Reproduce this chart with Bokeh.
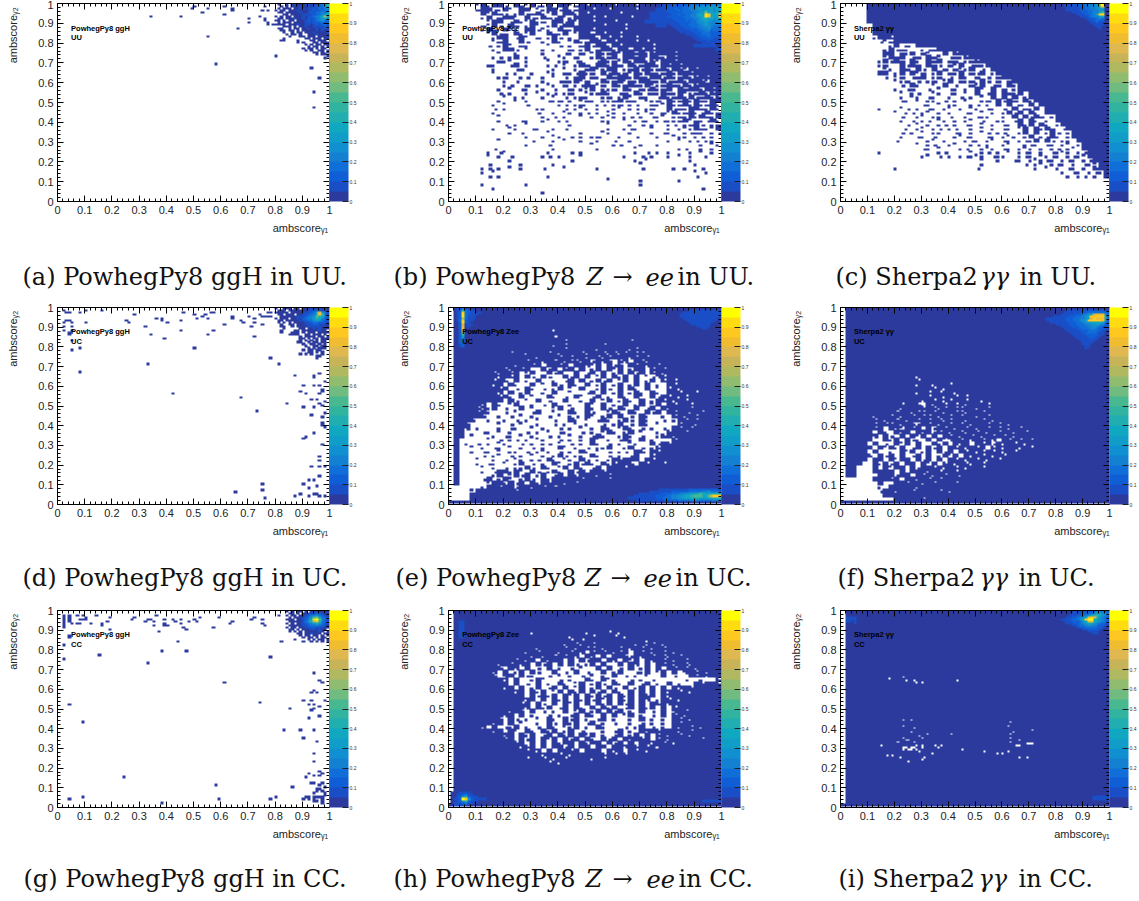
import numpy as np
from bokeh.plotting import figure
from bokeh.layouts import column, row
from bokeh.embed import file_html
from bokeh.resources import INLINE
from bokeh.models import (Range1d, LinearAxis, FixedTicker, LinearColorMapper, ColorBar,
                          Label, CustomJSTickFormatter)

PALETTE = ["#2b3a9c", "#1a4ec6", "#105ed6", "#106ed8", "#1480d2", "#1090d0", "#109ec8", "#10a8c0",
           "#20aeb0", "#30b4a0", "#48b890", "#70bc80", "#90bc70", "#b0b860", "#c8b458", "#e0b850",
           "#f0bc30", "#ffc820", "#ffdc10", "#ffff00"]
TICKS = [round(i * 0.1, 1) for i in range(11)]

CAPTIONS = [
    [("(a) PowhegPy8 ggH in UU.", 22, False)],
    [("(b) PowhegPy8", 393, False), ("Z", 586, True), ("→", 612, False), ("ee", 645, True), ("in UU.", 677, False)],
    [("(c) Sherpa2", 835, False), ("γγ", 980, True), ("in UU.", 1019, False)],
    [("(d) PowhegPy8 ggH in UC.", 22, False)],
    [("(e) PowhegPy8", 395, False), ("Z", 584, True), ("→", 610, False), ("ee", 643, True), ("in UC.", 675, False)],
    [("(f) Sherpa2", 837, False), ("γγ", 979, True), ("in UC.", 1018, False)],
    [("(g) PowhegPy8 ggH in CC.", 23, False)],
    [("(h) PowhegPy8", 393, False), ("Z", 585, True), ("→", 612, False), ("ee", 646, True), ("in CC.", 678, False)],
    [("(i) Sherpa2", 838, False), ("γγ", 978, True), ("in CC.", 1018, False)],
]
SAMPLES = ["PowhegPy8 ggH", "PowhegPy8 Zee", "Sherpa2 γγ"]
REGIONS = ["UU", "UC", "CC"]

# ---- sparse bins (x, y of occupied bins)
A_X = [.345,.455,.495,.505,.535,.555,.555,.585,.615,.615,.645,.645,.665,.705,.705,.745,.755,.765,.775,.765,.775,.775,.765,.805,.795,.935,.965,.945,.945]
A_Y = [.935,.935,.975,.985,.955,.975,.835,.695,.985,.945,.975,.965,.875,.925,.905,.935,.965,.985,.965,.925,.905,.895,.915,.735,.895,.675,.625,.555,.475]
A_CORNER = [
 ".a..a.abaaabbabbcdgk",
 "..a.a.aaabaababccdfh",
 ".a.aaa.aabbabbcbdcef",
 "a.aa.aaabaaabbcbcdde",
 ".aa.aaaaabaabcbddedf",
 "...aa.aaaabbbbccdegi",
 "a.a.aa.aaababcdeehmi",
 ".aa.aaabaabacbcdeghe",
 "aa.a.aa.aaabcbcdefdd",
 ".a.aaa.aaaabbbcccdcc",
 "aaaa.aaabaabbabcbcdb",
 "...aaa.a.aabaabbbbcb",
 ".aa..a.aa.aabaababbb",
 "..aa.aa.a.aaaaababaa",
 "...a..a.aa.aaabaaaab",
 "....a.aa.a..aaabaaaa",
 ".....a...aa.aaa.aaab",
 "...a.......aa.aaa.aa",
 "..aa....a....aa.aaa.",
 "........a.a...aa.aaa",
 "...........a.a.aa.aa",
 "............a.aa.a.a",
 "..........a.aa.a.aa.",
 "...........a.a..aa.a",
 "..............aa.a.a",
 "...............a.aa.",
 "...................a",
 "..................a.",
]
D_X = [.025,.035,.045,.085,.105,.165,.285,.365,.385,.385,.405,.455,.465,.505,.515,.535,.545,.555,.565,.575,.615,.645,.645,.675,.685,.705,.715,.725,.725,.745,.755,.755,.765,.775,.775,.785,.785,.725,
 .025,.025,.035,.045,.055,.055,.025,.045,.045,.055,.055,.055,.085,.085,.255,.265,.105,.325,.345,.395,.335,.425,.505,.555,.575,.455,
 .675,.735,.785,.815,.845,.855,.825,.875,.905,.895,.915,.935,.955,.945,.945,.945,.965,.965,.985,.975,.975,.965,.985,.965,.975,.945,.905,.935,.985,.975,.975,.975,.985,.945,.915,.905,.975,.965,.965,.935,.965,.985,.965,.925,.945,.905,.955,.925,.945,.955,.965,.985,.925,.895,.875,.755,.755,.655,.765]
D_Y = [.985,.975,.975,.975,.985,.985,.965,.945,.945,.935,.925,.935,.975,.965,.945,.955,.965,.945,.975,.975,.915,.955,.945,.935,.925,.955,.905,.945,.925,.965,.915,.955,.95,.975,.955,.975,.955,.855,
 .925,.905,.935,.935,.925,.905,.885,.875,.865,.885,.835,.785,.795,.675,.935,.925,.925,.905,.865,.845,.715,.565,.795,.865,.885,.885,
 .545,.475,.745,.715,.515,.865,.875,.655,.605,.575,.565,.535,.535,.605,.655,.645,.665,.605,.625,.585,.575,.565,.525,.515,.505,.495,.495,.455,.465,.445,.415,.405,.395,.365,.345,.335,.305,.245,.225,.195,.195,.195,.145,.125,.125,.105,.095,.085,.055,.055,.045,.045,.045,.055,.045,.105,.075,.065,.035]
D_CORNER = [
 "a..aaa.aa.aaababbaaa",
 ".aaa.aaaaaaabbccbbaa",
 "aaaaa.aaaabbbcdgpfdb",
 ".aa.aaa.aabbcdegqjcb",
 "..aaaaaabbbcdefkihdb",
 "a.aaa.aabacdeegihecb",
 ".aa.aaaaabbcddfgfdcb",
 ".a.a.a.aaaabbcddccbb",
 "..a..aa.aaabbbccbbaa",
 "..aa..a.aaaabbbbbaba",
 "...a.....aa.aababaaa",
 "..a....aa.aaaaaabaa.",
 "......aaa.a.aaa.aaaa",
 "......aaa..aa.aaa.a.",
 ".........a.aaaa.aa.a",
 ".........aa.a.aa.aaa",
 ".........a.a.a.a.aa.",
 "........aa..a.aa.aa.",
 "..........a..aa.a.a.",
 "...........a..aa.aa.",
 "............a.a.aaa.",
 "..........a.aa.aa...",
 "............aa.a.a..",
 ".........a.a.a...a..",
 "...............aa...",
 "...............a....",
]
G_X = [.025,.025,.025,.025,.025,.025,.025,.045,.045,.045,.045,.055,.075,.095,.085,.095,.105,.105,.075,.085,.125,.145,.165,.165,.185,.195,.195,.275,.285,.325,.335,.345,.355,.355,.365,.395,.395,.395,.405,.375,.425,.435,.455,.455,.465,.475,.485,.505,.515,.525,.575,.595,.635,.645,.715,.725,.755,.755,.765,.815,
 .045,.045,.025,.445,.825,.855,.855,.875,.385,.475,.155,.025,.335,.785,.945,.965,.975,.615,.945,.935,.955,.905,.935,.985,.745,.925,.945,.965,.045,.855,.945,.935,.965,.925,.095,.835,.895,.945,.905,.955,.945,.945,.965,.925,.945,.965,.975,.915,.245,.935,.945,.965,.975,.585,.865,.955,.965,.975,.955,.945,
 .915,.905,.925,.925,.945,.945,.955,.965,.975,.975,.945,.955,.975,.985,.985,.975,.985,.045,.095,.385,.595,.785,.805]
G_Y = [.975,.965,.955,.945,.935,.925,.915,.975,.965,.955,.945,.935,.975,.975,.955,.955,.965,.955,.935,.935,.935,.975,.935,.925,.945,.965,.905,.955,.965,.945,.955,.955,.945,.925,.975,.955,.935,.925,.925,.895,.955,.945,.955,.935,.915,.905,.945,.955,.945,.965,.915,.965,.935,.945,.955,.965,.955,.935,.925,.975,
 .875,.865,.825,.845,.845,.905,.895,.925,.795,.795,.775,.755,.735,.765,.685,.645,.635,.635,.595,.585,.585,.545,.545,.545,.535,.525,.525,.515,.525,.505,.505,.495,.465,.455,.435,.395,.395,.395,.355,.335,.275,.235,.185,.175,.165,.165,.175,.155,.155,.125,.125,.115,.125,.115,.105,.095,.095,.085,.085,.075,
 .055,.045,.055,.045,.055,.045,.055,.055,.055,.045,.035,.035,.035,.065,.075,.025,.105,.045,.055,.025,.045,.045,.055]
G_CORNER = [
 "a.a.aa.a.abbaaba",
 ".aa.a.aabbbccbaa",
 "a.aa.aabcdefdcba",
 ".a.aaabcdfklgdcb",
 "aaa.aabcegstkecb",
 ".aaaaabdfimqidcb",
 "a.a.aabcdeghfdbb",
 ".aa.aabbcddedcba",
 "a.aa.aabbccbbbaa",
 "..a.a.aaabbabaa.",
 ".a.a.a.aaaaaba.a",
 "....aa.aabaaa.aa",
 ".....a.aa.aa.a.a",
 "......a.aa.a.aa.",
 "...a....a.a.aa.a",
 "......a..a.a.a.a",
]

# ---- occupancy of 0.02 blocks, top row first.
# . empty  # full  + x one bin missing  , ' ` ; one bin  - ^ half block  letters: block at that level
FULL = ".#################################################"
B_MAP = [
 ".....`#,##;.#-`#;,#.##`-#+####+###+####bbbbbbcbcccc",
 ".....-##;,#`.##.`,##;#,-##+##+####+###bbbbbbbbccccc",
 "......#`#-;.,#;-#,`#.##,#+#####+#####bbbbbbbbbcccc",
 "......,#.-##`.#;,#-;#`,###+#+####+###bbbbbbbbbcccc",
 ".......`##.;#,`#,-.##;#`##+###+#####bbbbbbbbbbbccc",
 "......-`#;.#-.,#`.,#;##-####+###+#####bbbbbbbbbccc",
 "......,#-.#`,.##;`,.#-,###+#####+#######bbbbbbbbbb",
 ".......`#;-.#,`#..#-,#.`##-#+##+#########bbbbbbbbb",
 "........,##.;#`.-.,#;.,.###,#+#+##+#######bbbbbbbb",
 "........`-#..#;..,.#,.`#,-##-#+###+#+#######bbbbbb",
 ".......;.,#`.-,...`.;.,.-#;##,#+#####+#######bbbb#",
 "........,.##;.`..,.,..-.,#.-##,##-#+#+###########b",
 ".........`..,....,...;,.-.`#,-#`##-#,+###+########",
 "........,;.,#.,..;..`,.-..,#,-#.##-#`#+,#+########",
 ".........-,`..,...`.,-.;,..;#,-`#,##,+`##+########",
 ".......-,..;#.,...,;.`.,#-.##,#-.#,-##,#+#+#######",
 "........,...;-.....,.`.,.-#`,##.,-#;#,-#,#+`#+####",
 "........`.;.,..,..`,.-,;#,-.#;#,-`#,#-,-#,##+#####",
 ".........,-..,;..,.`.;.-#.-,.#-##,#-,##;#,-#,+#+##",
 "..........,.;....,..;-,#`-..#,-#`-,##-,#;-#,##+`##",
 "..........,;..-.,.`,.-.,;#-`-.#,-#-,#`,-#-,#,+####",
 ".........,.`.;,..,.;..-.,`#.,,-.#,.-;#,-#.#-##,#+#",
 ".........;.,..,.`.,;.,-..`,-#,.;-.#,;-,#-,#`,-#,+#",
 "..........`.,;...,.`.;.,-,..,-.,#`.-,.;#,-#,#;-#,+",
 ".........,..`.,...;,-.,.`-,.,,-#;-,.`,-.#,-#,#-,##",
 "........,.`...;.....,;.,-..,;.,-.,;..-,`#,-#,#,-#,",
 "........;.,.....,,...;.,`,.,..,`.,;.,-..#;-,##-,#,",
 "........,.......;..,.`,.,;.,.`,.,.;.`,.-`#,-#,;#,-",
 ".........`.......,.;.,..`.,.,`,.,;.,.;,`.,-,#,#-,#",
 ".........,...;,..,`.,;......,,..`.,;,.,;,,-#`-,;#,",
 "..........;.,.`.......,......`...,.;.,..,;.,-#;.,-",
 "........,..`,..;,..,.;.......,..,;,..`..,.,`,#-,`#",
 "...........,.;....`.....,...`,...,...,.;,..,;-,.,;",
 "..............,..,.`,.;.,.,-...,..;...,..`,,.,;.,.",
 ".........`.....;...,.`..,..,..;..,......,.`.,;.,,.",
 "..............,...;.......`...,;...,..,.......,.`,.",
 "........;..........,.......,......`.......,;..,.,.",
 ".......,.;`.......,...;.,.........,.;.,.,...,.`.,.",
 ".......`.,.;.....,;.,...`.......,..;.,..,.`.,..,.",
 "...........,..........;...........,.`.......,.....",
 ".......;.....,.....,...............`.........,....",
 "......,;.,.`.,...;...`.....,.......;.....,.,..;...",
 "......,.`....................................`.,..",
 ".......;.,........,..........................;....",
 ".............................`.....,......,.......",
 "......,.......,....................,..............",
 "........,.....................................;...",
 ".................,................................",
 "..................................................",
 "..................................................",
]
C_MAP = [
 ".....#############################################",
 ".....#############################################",
 ".....#############################################",
 ".....#############################################",
 ".....#############################################",
 "......############################################",
 "......############################################",
 "......############################################",
 "......,##+########################################",
 ".......;`-.+#+####################################",
 ".........,#.-.`+-+,+##############################",
 "........,#;-,..,;-.`+#+-+#########################",
 "........##.-,#.-`..#.+.-`+-+#+####################",
 "........`#-#.;-.#-`.;-,+.+;,+-+###################",
 ".......,#;#-.#,.#-#.--.,-+.-`+.+##################",
 ".......,-..#;#-.#-;.-`#.;-,+.,+-##################",
 "........`,.#-.#;.#.-.-`,#.;.-.,+-+################",
 ".......##.,#.#`-.,#.-,#.-;#.,`.+-.+###############",
 "........;.`-.;-#.,-.;.#,.-.;.-.+`-.+##############",
 "..........`,-.;.,-.`#.-,-.#;.-.-`;.,+#############",
 "...........;.#,..`.#.;..-`#.;-.#,`;..#+###########",
 "..........,.;-..;.`.;,.,.#`.#.-.,#;.`.+###########",
 "...........`.,;..`,.;,.`.#.;#.#-,#.,;.,-##########",
 "...........,.`,.;,..,.;.,.`.#.#.#.,#.;..+#########",
 "...........;,.`.,,.;.,.`..,-.#;#-.#,`.,.-+########",
 "...............;,.`.,,..,;.,.#.#.-.#.;,.,+########",
 ".......,...`;.,.;,.,`.,.`,.;,.;.#.-,#.,`,.+#######",
 "..........`.,;.,`.,.,..;,.`.,.,#;#.#,.#;,.,-######",
 "...........;..,`.,,.;..,.;,,..,.#.#;#-.,`.,.######",
 "...........,.;.,;.`,.,.,`.;..,,.;#.#,.,.#;,.-#####",
 "............;.`.,.,;.,.;,.`.,.;,.#,#.#,.,.;,.+####",
 "............,.,`.,;.,;..,.`.,.;,.`#.#,#-.;.,`.+###",
 "...........;.,.`.,,..;,.,.`;.,;..,#.#.,#;.,.;,####",
 "...........,..;,.;...,`;,..;,.,`,.,#.,;#,.,;,`+###",
 "..........;.....,`.,...,;,.,`.;,.,;,#.#;.,,.;,-###",
 "..............`.,;..,`..,;.,..,`..,;,.;,.,`.,.,+##",
 "...............;,.`...,;..,`,.;,.,`,.,.,;.,`.,.###",
 ".......,..........,;....`.,;.,.`.,;,.,.;,`,.,;,###",
 "...............,`.;.,.,;,`,.;,,..,;,.`,;,.,;,`,+##",
 "..........................`..,..;,.,`,;,.,;,.,;###",
 "..........................,.......;.,`.,;,.,.;,`##",
 "..........,..............;..........,.`.,.;,.,.+#",
 ".........................................,.;,.,;,#",
 "..........................................,.,;.,.-",
 "..................................................",
 "..................................................",
 "..................................................",
 "..................................................",
 "..................................................",
 "..................................................",
]
# first solid 0.02 column of panel (c) per row, for rows 9 to 43
C_SOLID_FROM = [10,14,18,22,24,26,27,28,29,30,32,33,34,35,36,36,37,38,39,40,40,41,42,43,43,44,45,45,46,46,47,48,48,49,49]
E_MAP = [
 FULL, FULL, FULL, FULL, FULL,
 ".##################x##############################",
 FULL,
 ".##################+##############################",
 ".####################+###########+################",
 ".##################x#+######+#####################",
 ".####################+#####x#####x+###############",
 ".##########+##x###+#x###+x##+x+x+#++##############",
 ".###############x###+#+##x#+x+###x+#+#############",
 ".#############+##x#+#x++x#;#x+.+x.#+x#############",
 ".###########x##+#.##+#.##x`#.#;+.#+#x#+###########",
 ".#########+x#+#..#;#.+#.#.,#.#`#.,##.+#+##########",
 ".#######+x#+#.`#..#;#..#.;#.#.,#.#;#.+#x##########",
 ".########x#+#.#;.#;..#;#.#.`#.#,#.#.`;x+##########",
 ".#######+#+.#.,.#..,.;#.#.,#;#.`#.#.,#.+#+########",
 ".#######x#.#,..#.`.#;.#,.#.,#.,#.,#.#.,.#+########",
 ".########+#.;.#,.;.,#.`.#..,#;.#.#,.#.`.+#x#######",
 ".########x.#.,#..,.#..`..;#.#.,#.,#,.#,.##+##+####",
 ".########+#,.#.`..#,.;.#`.;#.,.#,.#`.#;#+#x+######",
 ".#########.#;.`.#.;..#..,.#.`#.,#,.#.,#+#x#+######",
 ".#####x.#,.`#..,.;.#..,..#`.#.,.#.,#.`#.#+##+#####",
 ".####+x,#.;..#.`...`#.;..#,.#;.#,.#.;#.#x###+#####",
 ".####+#,..;.`..;#..`..#,.#;..`#,.#,.#;#.#+##x#+###",
 ".#####+..,.;.`.,..;.`.,;.#`.,#.#.;.#,..,.+#x#+####",
 ".###+..,..,.;.,.`..;..#,.`.;#,.,#;.#,..;.,#+#+####",
 ".##+.....`.;.`..,..;.,.`.,..;.,#.;.#,.`...+##x####",
 ".##x.,...,.;,..`.,..;.,.`.,.#,.`#,.;.,.;.#+#+#####",
 ".##...;,.`.,..;.,.`.;,..;.,.`#,.,#.`..,.+##+######",
 ".##.`...,.;,.`.,..;.,.`.,.;#,..,#,.;..,+#x########",
 ".#.....`.;.,;.,.`,..;.,.,.#`.,.;#,.#.,...+########",
 ".#.,.;.,.`,..;.,.,;.`.;.,.#,.;.,.`,..#;#+#########",
 ".#..`.,.;,.`.,.;.,..#`.,.;.,,#..,#.;.,+###########",
 ".#..,.;,.`.,,.;.,`,.;.,.#,.`.;.,;.#+.#+###########",
 ".#....;.,`.;.,.`.,.,#;.,,.#,.;.,.;#..+############",
 ".#...`..,.;.`,.,;.#,.`,.#;.,.,#+###.#+############",
 ".#...,.;,.`.,#.;.,.#`.,#;#,.#,+##+.#+##+##########",
 ".#....`.,.;.,,#;.#,.`#.#,.;#.###+#################",
 ".#....,.;##,#`.#;.,#,.#;#.##+#####################",
 ".#......,#.`#;#.,#.;#.#,###x#+####################",
 ".#....;#.,#`.,#;.#,#####+####+####################",
 ".#.....`##,#;#.#,#+##x#+##########################",
 "......,##+##;##x#+#+##############################",
 "....`#######+#####################################",
 "....##############################################",
 "....##############################################",
 "^^^^^^^^^^^^^^^^^^^^^^^^^^^^^^^^^^^^^^^^^^^^^^^^^^",
]
F_MAP = [FULL] * 16 + [
 ".#############x###################################",
 ".#############+###################################",
 ".#############x##x##+#############################",
 ".################+#x##############################",
 ".#############x#+#+##x############################",
 ".###############+##x#+#+##########################",
 ".##############x#+#x+##+##x#######################",
 ".##########+##+.#x#+#+#x###+######################",
 ".##########x###+#+x+#++##x#+######################",
 ".#########+##x++#+#x#++x##+#######################",
 ".#####x##+#x#+#++#x#+#+##x#+######################",
 ".#####+#x#+#x#+#+#+x+##x##+#x#####################",
 ".#####+#++#x#+;#+#x#+#+#x##+#+#x##################",
 ".#####+#.#x`#+#.#;#+#x#+#x#+#+#x#+################",
 ".#####.#,.#x#.#x#;+#x#+x#+#x#+##x#+###############",
 ".#####x.#;.#.#`#.#.#+#x#+#x#+#+#x#################",
 ".#####..#,#.#;,.#.#`x#+#x#+#x.#+#+#+##############",
 ".####.#.;.#`#.#..#,#.#x#.#+#;#x#+#x###############",
 ".#####.#`#,#.;#.#;#.#+#x#+#.+#x##x#+##############",
 ".####.#..,.#`#.,#.#;#.#+#x+#+#x#+#################",
 ".####+.#;#.#.;#.#.,#`#.#x#+#x#+###################",
 ".####.##.#`##.#;#.#.#+#x#+#x#+####################",
 ".###..#,#;#.##.#`#.+#x#+x#+#######################",
 ".##...#.#`##.#;##+#x#+#x##+#######################",
 ".##...####.#.###x#+##+############################",
 ".##....###;##.#+#x#+##x###########################",
 "......###+#.##x#+#+###############################",
 ".......#..##+##x#+###+############################",
 ".......,.#####x###################################",
 ".......;##x##+####+#x#############################",
 "........##########################################",
 "..........#####+##################################",
 "^^^^^^^^^^^^^^^^^^^^^^^^^^^^^^^^^^^^^^^^^^^^^^^^^^",
]
H_MAP = [
 ".##############x#########x###+#x##################",
 ".#####################x###+###+#x##################",
 ".#####################+#+###########x#############",
 ".####################x#+x#+#######x#x+#x##########",
 ".###############x####+#x#++#x##+#x#+#x#+##########",
 ".#############x#+###x#+#x.+#+#x+#.#+#x#+#x########",
 ".##############x#x#+#+#x.#x.#.##+;#x#+#+x#+#######",
 ".###########+#x#.#x##.#.#;##.#x.#`#.#x#+#x#+######",
 ".########x#+#x#.#;#.#.#;.,#.#..#.#x.#.#+#x#+x#####",
 ".########+.#x.#.;.#.,.;.`..#.#.;.#.,#.#.#+#+#x####",
 ".#######x.#.,#.#;..#.;.#.;..#.,#..;,#.`#.#.x#+#x##",
 ".#######+.x#.#;,..;.`.,.;.`.,.#.;.,.`..#.;..#+#x##",
 ".#########x.#..,#`..;.,..#,.#`,..;.,.;.....;..,..+",
 ".##########.#.;.#.,.#,.`#.,#;.#,.#.;#.,.#.,..#+##+",
 ".#########x#.#.,#.;#.#.`#.,#.#;.#.,#.#.#.#x#+#####",
 ".###########x#.#,#.`#.#,#.#;#.#,.#.#.#.#x#+#x#####",
 ".#############.#;#,#.#`#.#,#;#.#,#.#+#.#x#########",
 ".#############x#.#.#,#.#,#;#`#.#,#.#x.,#+#x#######",
 ".############+#.#;.#.#`#.#.#,#.#;#.#.#+#x#########",
 ".#############x.#,#.;#.#,.#.#,#.;#.#,#.#.+########",
 ".##########x#+.#.;.,.#.`#.,#.#;#.,.#.;.#.x#+######",
 ".#########x#.#.,..;.,.;#.#,.#.#.`#.,.;.#.+#x######",
 ".########+.#;.,.`.#,.#;#.,.;#.,..,.#.,.,.#+#x#####",
 ".#######x#.#.`..,.#;.#,#.;#.,.;..,.;.,.,.#+#######",
 ".#####x.#.;,#.,.;.#,.`,#.,.#,...;.,#.;.,.#x#+#x###",
 ".#######x#.#`.#,.#,#.,#.;...,.;#.,.#x#+###x#+#####",
 ".#########x#.#,#.;#.#,#.#`#.,.;#.,#.#.+#x#+#x#####",
 ".#########+#.#;#.#`#.#;#.#,.#;#.#x#+#.+#x#####+###",
 ".###########+#.#.#.#,##.#,##.#;#.#.##x#+#x########",
 ".############x+#.#.##;#.##.##.##x#+#+#x###########",
 ".#############+#x.#.##+#.###.#x#.#+#x#############",
 ".################x##+#x#####+#+#+#################",
 ".#############+##+#x#+####x#+#####################",
 ".#################+#x##############################",
 FULL, FULL, FULL, FULL, FULL, FULL, FULL, FULL, FULL, FULL,
 "^^^^^^^^^^^^^^^^^^^^^^^^^^^^^^^^^^^^^^^^^^^^^^^^^^",
]
I_MAP = [FULL] * 49 + ["^" * 50]
I_HOLE_X = [.185,.235,.245,.275,.285,.305,.435,.235,.235,.265,.275,.265,.295,.305,.325,.235,.245,.255,.275,.285,.275,.155,.215,.235,.265,.305,.305,.355,.365,.375,.235,.245,.255,.265,.275,.285,.295,.175,.195,.225,.345,.305,.315,.255,.415,.455,.535,.585,.605,.625,.625,.635,.635,.635,.645,.655,.665,.665,.695,.705,.715,.665,.695,.715,.635]
I_HOLE_Y = [.655,.665,.645,.645,.635,.635,.645,.445,.415,.445,.405,.385,.365,.355,.375,.355,.345,.345,.335,.315,.305,.315,.335,.295,.305,.315,.305,.315,.305,.315,.305,.305,.295,.295,.305,.295,.285,.265,.265,.255,.275,.245,.255,.235,.375,.295,.285,.275,.275,.285,.415,.375,.435,.335,.385,.315,.345,.315,.325,.325,.325,.255,.255,.395,.355]

# ---- level maps on the 0.01 bins (a=lowest band ... t=top band), first row is the top one
B_HOT = [
 "bbcbbcbccdccddcddeed",
 "ccccccdddeefeffggfgg",
 "cccdccddeeefgffggfhg",
 "ccccdcdddeefffhfgegh",
 "bcccccddddeefglhgfhi",
 "bbccdccddeeghgsrhghq",
 "ccccccdddeefghsqhggr",
 "bbcccccdddeefhighfgi",
 "bbbccccdcddefghgfefg",
 "bbbbcccccddeffgfeeef",
 "abbbbcccddddefgfeeee",
 "aabbbbcccdddeeffeddd",
 "aaabbbbccccddeefdddd",
 "aaaabbbbbcccddeecddd",
 "aaaaabbbbbcccdddcccc",
 "aaaaaaabbbbccdddcccc",
 "aaaaaaaaabbbcccdcccb",
 "aaaaaaaaaabbbccccbbb",
 "aaaaaaaaaaabbbbcbbbb",
 "aaaaaaaaaaaaabbbbbbb",
]
C_HOT = [
 "...bbbbcccddeefgkta.",
 "...bbbbbcccddeefhra.",
 "....bbbbbccddeefgga.",
 "....bbbbbcccddeeffa.",
 "......bbbbccddeegka.",
 "........bbbccdegrsa.",
 ".........bbbcdeefha.",
 "...........bbccdeda.",
 "............bbcdcca.",
 ".............bbcbba.",
 "..............bbbba.",
 "...............bbaa.",
 "................baa.",
 ".................aa.",
]
E_HOT_TL = [
 "abbdbbaaaa",
 "abchdcbbaa",
 "abcrdcbbab",
 "abcsdcbbba",
 "abcsdbbbaa",
 "abcmdbbbaa",
 "abdrcbbaaa",
 "aacscbaaaa",
 "aacoabbaaa",
 "aacpabaaaa",
 "aacqaaaaaa",
 "aacnaaaaaa",
 "aacmaaaaaa",
 "aacjaaaaaa",
 "aacgaaaaaa",
 "aaceaaaaaa",
 "aacdaaaaaa",
 "aacdaaaaaa",
 "aabcaaaaaa",
 "aabcaaaaaa",
]
E_HOT_TR = [
 "....bbbbbbbbbbbb",
 "..bbbbbbbbbbbbbb",
 ".bbbbbbbbbbbbbbb",
 ".bbbbbbbbbbbbbbb",
 "..bbbbbbbbbbbbba",
 "...bbbbbbbbbbbaa",
 "....bbbbbbbbbaaa",
 ".....bbbbbbbaaaa",
 ".......bbbbbaaaa",
 ".........bbaaaaa",
]
E_HOT_BR = [
 "..............bbbbbbbbbbbcccccccccccb",
 "...........bbbbbbbbccccccdddddeefdddc",
 ".......bbbbbbbbccccdddeeffgghjhgghhhh",
 ".....bbbbbbbbccccddeeffghhjkkkhhknrrq",
 "...bbbbbbbbbbcccdddeeffggghhhggghhhhh",
 "......bbbbbbbbbbcccccdddddeeedddddeee",
]
F_HOT = [
 "..........bbbbbbbcccccccbb",
 ".........bbbbbbcccdddddddc",
 "........bbbbbcccdefgoqqqfd",
 ".....bbbbbbcccddefhrrrrrhd",
 "..bbbbbbbbcccddeefgorpqqhd",
 "...bbbbbbbcccddefgqrrrrqgc",
 "....bbbbbbbcccddefgghhhgdc",
 "......bbbbbcccdddeeffgfecc",
 "........bbbbcccdddeefedcbb",
 ".........bbbbbccdddeedccbb",
 "..........bbbbbcccddddcbb.",
 "...........bbbbbccdddcbb..",
 "............bbbbbcccccbb..",
 ".............bbbbbcccbb...",
 "..............bbbbbcbb....",
 "...............bbbbbb.....",
 "................bbbb......",
 "................bbb.......",
 ".................bb.......",
 ".................b........",
]
H_HOT_BL = [
 "aaabbbbaaaaaa",
 "aabbcdbbaaaaa",
 "aabcfhcbbbaaa",
 "abbctrfcbbbbb",
 "aabcehcbbbaaa",
 "abbbcdbbaaaaa",
 "abbbbbaaaaaaa",
]
H_HOT_TL = ["bb", "bb", "bb", "bb", "bb", "bb", "bb", "bb", "bb"]
H_HOT_BR = ["bbbbbbb"]
I_HOT = [
 "......bbbbcccdeedcc",
 ".....bbbbcccdeggfed",
 "....bbbccdefhjjhfed",
 "...bbccdefhprpifedc",
 ".bbbccddfhrtthgfedc",
 "..bbbcccdfhpqhgfedc",
 "...bbbccdeghhfedccb",
 ".....bbcddefeedccb.",
 ".......bccddddccb..",
 ".........bbccccb...",
 "...........bbbb....",
 ".............bb....",
]
I_HOT_TL = ["bbbb", "bbbb", "bbab", "a..b"]
I_HOT_BR = ["bbbbbb", "bbbbbb"]


def level(ch):
    return (ord(ch) - 97 + 0.5) * 0.05


def new_grid():
    return np.full((100, 100), np.nan)


def put_points(g, xs, ys):
    for x, y in zip(xs, ys):
        g[int(y * 100), int(x * 100)] = 0.025


def put_blocks(g, rows):
    rows = [FULL] * (50 - len(rows)) + list(rows)
    rows = rows[-50:]
    bits = {"#": [(0, 0), (1, 0), (0, 1), (1, 1)], "+": [(0, 0), (1, 0), (0, 1)], "x": [(1, 0), (0, 1), (1, 1)],
            ",": [(0, 0)], "'": [(1, 1)], "`": [(0, 1)], ";": [(1, 0)], "-": [(0, 0), (1, 0)], "^": [(0, 1), (1, 1)]}
    for r, line in enumerate(rows):
        fill = "." if line[-1] in ".,;`" else "#"
        line = line.ljust(50, fill)[:50]
        iy = 98 - 2 * r
        for k, ch in enumerate(line):
            if ch in bits:
                for dx, dy in bits[ch]:
                    g[iy + dy, 2 * k + dx] = 0.025
            elif "a" <= ch <= "t":
                g[iy:iy + 2, 2 * k:2 * k + 2] = level(ch)


def put_levels(g, x0, ytop, rows):
    for r, line in enumerate(rows):
        for k, ch in enumerate(line):
            if "a" <= ch <= "t" and x0 + k < 100:
                g[ytop - r, x0 + k] = level(ch)


def swell(g):
    """Paint every bin 1.25 bins wide on a finer raster, as the blurred original print shows them."""
    sub = 4
    out = np.full((400, 400), np.nan)
    iy, ix = np.nonzero(~np.isnan(g))
    order = np.argsort(g[iy, ix])
    for j in order:
        a, b = iy[j], ix[j]
        out[max(4 * a - 1, 0):4 * a + sub, max(4 * b - 1, 0):4 * b + sub] = g[a, b]
    return out


grids = [new_grid() for _ in range(9)]
put_levels(grids[0], 80, 99, A_CORNER); put_points(grids[0], A_X, A_Y)
put_blocks(grids[1], B_MAP); put_levels(grids[1], 80, 99, B_HOT)
put_blocks(grids[2], C_MAP)
for n, col in enumerate(C_SOLID_FROM):
    iy = 98 - 2 * (n + 9)
    grids[2][iy:iy + 2, 2 * col:] = 0.025
put_levels(grids[2], 80, 99, C_HOT)
put_points(grids[3], D_X, D_Y); put_levels(grids[3], 80, 99, D_CORNER)
put_blocks(grids[4], E_MAP); put_levels(grids[4], 2, 99, E_HOT_TL)
put_levels(grids[4], 84, 98, E_HOT_TR); put_levels(grids[4], 63, 7, E_HOT_BR)
put_blocks(grids[5], F_MAP); put_levels(grids[5], 74, 98, F_HOT)
put_points(grids[6], G_X, G_Y); put_levels(grids[6], 84, 99, G_CORNER)
put_blocks(grids[7], H_MAP); put_levels(grids[7], 1, 7, H_HOT_BL)
put_levels(grids[7], 4, 94, H_HOT_TL); put_levels(grids[7], 93, 3, H_HOT_BR)
put_blocks(grids[8], I_MAP); put_levels(grids[8], 81, 99, I_HOT)
put_levels(grids[8], 2, 96, I_HOT_TL); put_levels(grids[8], 94, 5, I_HOT_BR)
for x, y in zip(I_HOLE_X, I_HOLE_Y):
    grids[8][int(y * 100), int(x * 100)] = np.nan

FRAME_L = [57, 448, 840]
FRAME_W = [272, 273, 272]
CELL_W = [380, 380, 379]
ROW_TOP = [3, 7, 7]
ROW_FRAME_H = [198, 197, 197]
ROW_H = [300, 303, 298]
PLOT_H = 245
CELL_X = [0, 380, 760]
CAP_MID = [276, 277, 275]   # caption height, from each row's top

MINOR = [round(i * 0.02, 2) for i in range(51)]
FONT = "Liberation Sans"
NB = "\u00a0"


def blank():
    return CustomJSTickFormatter(code="return ''")


def make_panel(i):
    r, c = divmod(i, 3)
    left = FRAME_L[c] - CELL_X[c]
    p = figure(width=CELL_W[c], height=PLOT_H, x_range=Range1d(0, 1), y_range=Range1d(0, 1),
               toolbar_location=None, output_backend="svg", x_axis_type=None, y_axis_type=None,
               min_border_left=left, min_border_right=CELL_W[c] - left - FRAME_W[c],
               min_border_top=ROW_TOP[r], min_border_bottom=PLOT_H - ROW_TOP[r] - ROW_FRAME_H[r],
               background_fill_color="white", border_fill_color=None, outline_line_color="black")
    p.grid.visible = False
    mapper = LinearColorMapper(palette=PALETTE, low=0, high=1, nan_color="rgba(0,0,0,0)")
    p.image(image=[swell(grids[i])], x=0, y=0, dw=1, dh=1, color_mapper=mapper)

    def axis(labelled, text=""):
        ax = LinearAxis(ticker=FixedTicker(ticks=TICKS, minor_ticks=MINOR),
                        major_tick_in=6, major_tick_out=0, minor_tick_in=3, minor_tick_out=0,
                        axis_line_color="black", major_tick_line_color="black", minor_tick_line_color="black",
                        major_tick_line_width=1, minor_tick_line_width=1)
        if labelled:
            ax.major_label_text_font = FONT
            ax.major_label_text_font_size = "11px"
            ax.major_label_text_color = "#222222"
            ax.major_label_standoff = 4
            ax.axis_label = text
            ax.axis_label_text_font = FONT
            ax.axis_label_text_font_size = "11px"
            ax.axis_label_text_font_style = "normal"
            ax.axis_label_text_color = "#222222"
        else:
            ax.formatter = blank()
            ax.major_label_standoff = 0
        return ax

    # leading no-break spaces push the centred axis titles to the far end of the axis, as in the original
    xb = axis(True, NB * 70 + "ambscoreᵧ₁"); xb.axis_label_standoff = 5
    yl = axis(True, NB * 44 + "ambscoreᵧ₂"); yl.axis_label_standoff = 16
    p.add_layout(xb, "below")
    p.add_layout(yl, "left")
    p.add_layout(axis(False), "above")
    p.add_layout(axis(False), "right")

    cb = ColorBar(color_mapper=mapper, ticker=FixedTicker(ticks=TICKS), width=19, height=ROW_FRAME_H[r],
                  padding=0, margin=0, location="top_left", label_standoff=1,
                  major_label_text_font=FONT, major_label_text_font_size="5px",
                  major_label_text_color="#333333", major_tick_in=6, major_tick_out=0,
                  major_tick_line_color="#222222", minor_tick_line_color=None, bar_line_color=None)
    p.add_layout(cb, "right")

    p.add_layout(Label(x=0.05, y=0.853, text=SAMPLES[c], text_font=FONT, text_font_size="7.5px",
                       text_font_style="bold", text_color="black", level="overlay"))
    p.add_layout(Label(x=0.05, y=0.805, text=REGIONS[r], text_font=FONT, text_font_size="7.5px",
                       text_font_style="bold", text_color="black", level="overlay"))
    return p


def make_strip(r):
    h = ROW_H[r] - PLOT_H
    s = figure(width=1139, height=h, x_range=Range1d(0, 1139), y_range=Range1d(0, h),
               toolbar_location=None, output_backend="svg", x_axis_type=None, y_axis_type=None,
               min_border=0, outline_line_color=None, background_fill_color=None, border_fill_color=None)
    s.grid.visible = False
    for i in range(3 * r, 3 * r + 3):
        for text, page_x, italic in CAPTIONS[i]:
            s.add_layout(Label(x=page_x, y=ROW_H[r] - CAP_MID[r], text=text, text_font="DejaVu Serif",
                               text_font_size="24px", text_font_style="italic" if italic else "normal",
                               text_color="#111111", text_baseline="alphabetic"))
    return s


panels = [make_panel(i) for i in range(9)]
children = []
for r in range(3):
    children.append(row(*panels[3 * r:3 * r + 3], spacing=0))
    children.append(make_strip(r))
layout = column(*children, spacing=0)
open("out.html", "w").write(file_html(layout, INLINE))
